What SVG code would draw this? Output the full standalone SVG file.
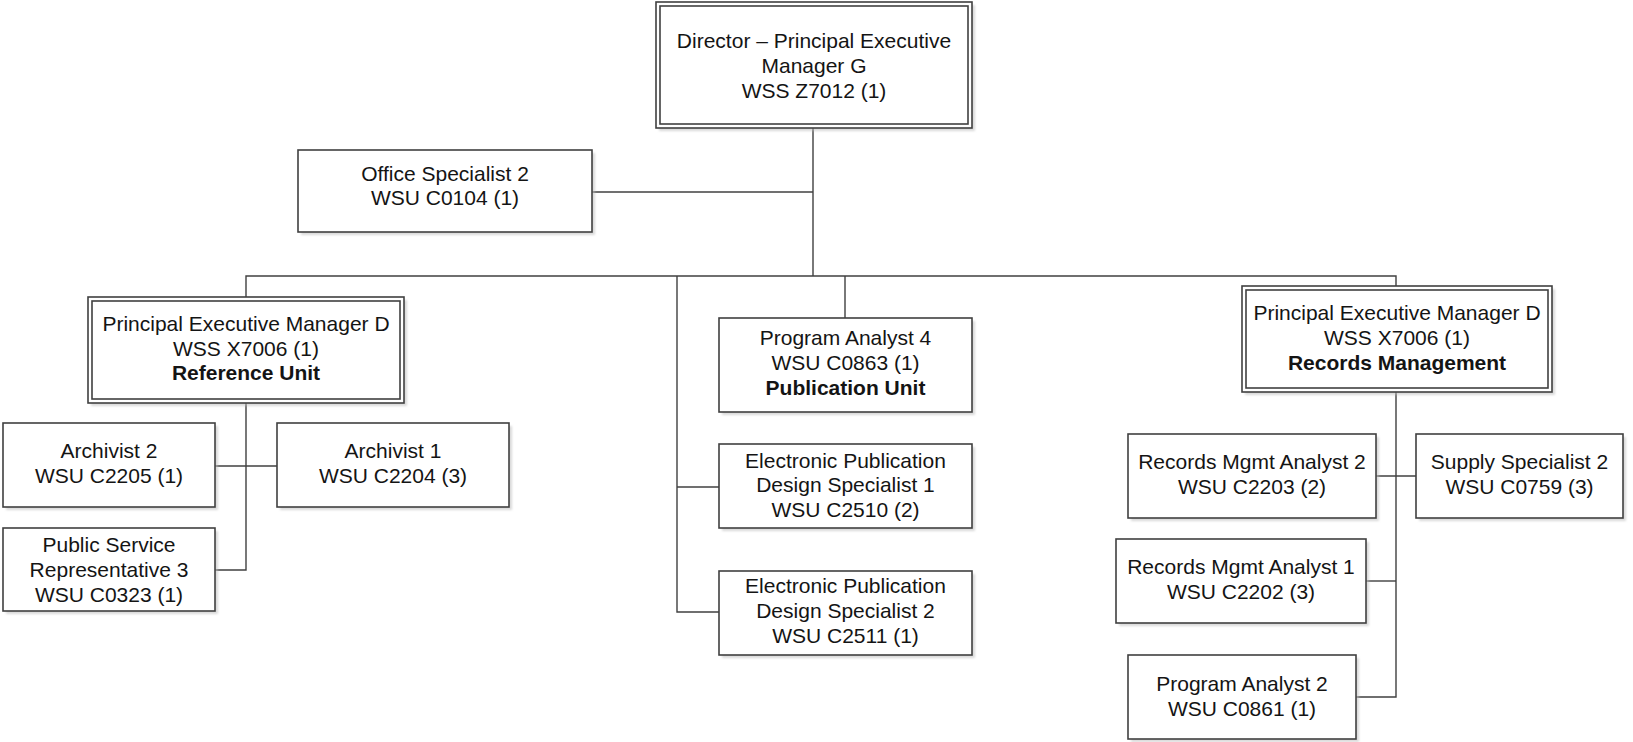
<svg xmlns="http://www.w3.org/2000/svg" width="1633" height="742" viewBox="0 0 1633 742">
  <style>
    .box { fill: #ffffff; stroke: #404040; stroke-width: 1.6; }
    .inner { fill: none; stroke: #404040; stroke-width: 1.6; }
    .shadow { fill: #bdbdbd; opacity: 0.55; filter: url(#soft); }
    .link { fill: none; stroke: #404040; stroke-width: 1.4; }
    text { font-family: "Liberation Sans", Arial, sans-serif; font-size: 21px; fill: #141414; text-anchor: middle; }
    .b { font-weight: bold; }
  </style>
  <defs>
    <filter id="soft" x="-5%" y="-5%" width="110%" height="110%">
      <feGaussianBlur stdDeviation="1.2"/>
    </filter>
  </defs>
  <rect width="1633" height="742" fill="#ffffff"/>

  <!-- reporting lines -->
  <g id="connectors">
    <polyline class="link" points="813,128 813,276"/>
    <polyline class="link" points="592,192 813,192"/>
    <polyline class="link" points="246,297 246,276 1396,276 1396,286"/>
    <polyline class="link" points="845,276 845,318"/>
    <polyline class="link" points="677,276 677,612 719,612"/>
    <polyline class="link" points="677,487 719,487"/>
    <!-- Reference Unit -->
    <polyline class="link" points="246,403 246,570 215,570"/>
    <polyline class="link" points="215,466 277,466"/>
    <!-- Records Management -->
    <polyline class="link" points="1396,392 1396,697 1356,697"/>
    <polyline class="link" points="1376,476 1416,476"/>
    <polyline class="link" points="1366,581 1396,581"/>
  </g>

  <g id="director">
    <rect class="shadow" x="659" y="5" width="316" height="126"/>
    <rect class="box" x="656" y="2" width="316" height="126"/>
    <rect class="inner" x="660" y="6" width="308" height="118"/>
    <text x="814" y="48">Director – Principal Executive</text>
    <text x="814" y="73">Manager G</text>
    <text x="814" y="98">WSS Z7012 (1)</text>
  </g>

  <g id="office-specialist-2">
    <rect class="shadow" x="301" y="153" width="294" height="82"/>
    <rect class="box" x="298" y="150" width="294" height="82"/>
    <text x="445" y="181">Office Specialist 2</text>
    <text x="445" y="205">WSU C0104 (1)</text>
  </g>

  <g id="reference-unit">
    <rect class="shadow" x="91" y="300" width="316" height="106"/>
    <rect class="box" x="88" y="297" width="316" height="106"/>
    <rect class="inner" x="92" y="301" width="308" height="98"/>
    <text x="246" y="331">Principal Executive Manager D</text>
    <text x="246" y="356">WSS X7006 (1)</text>
    <text class="b" x="246" y="380">Reference Unit</text>
  </g>

  <g id="archivist-2">
    <rect class="shadow" x="6" y="426" width="212" height="84"/>
    <rect class="box" x="3" y="423" width="212" height="84"/>
    <text x="109" y="458">Archivist 2</text>
    <text x="109" y="483">WSU C2205 (1)</text>
  </g>

  <g id="archivist-1">
    <rect class="shadow" x="280" y="426" width="232" height="84"/>
    <rect class="box" x="277" y="423" width="232" height="84"/>
    <text x="393" y="458">Archivist 1</text>
    <text x="393" y="483">WSU C2204 (3)</text>
  </g>

  <g id="public-service-rep-3">
    <rect class="shadow" x="6" y="531" width="212" height="83"/>
    <rect class="box" x="3" y="528" width="212" height="83"/>
    <text x="109" y="552">Public Service</text>
    <text x="109" y="577">Representative 3</text>
    <text x="109" y="602">WSU C0323 (1)</text>
  </g>

  <g id="publication-unit">
    <rect class="shadow" x="722" y="321" width="253" height="94"/>
    <rect class="box" x="719" y="318" width="253" height="94"/>
    <text x="845.5" y="345">Program Analyst 4</text>
    <text x="845.5" y="370">WSU C0863 (1)</text>
    <text class="b" x="845.5" y="395">Publication Unit</text>
  </g>

  <g id="epds-1">
    <rect class="shadow" x="722" y="447" width="253" height="84"/>
    <rect class="box" x="719" y="444" width="253" height="84"/>
    <text x="845.5" y="468">Electronic Publication</text>
    <text x="845.5" y="492">Design Specialist 1</text>
    <text x="845.5" y="517">WSU C2510 (2)</text>
  </g>

  <g id="epds-2">
    <rect class="shadow" x="722" y="574" width="253" height="84"/>
    <rect class="box" x="719" y="571" width="253" height="84"/>
    <text x="845.5" y="593">Electronic Publication</text>
    <text x="845.5" y="618">Design Specialist 2</text>
    <text x="845.5" y="643">WSU C2511 (1)</text>
  </g>

  <g id="records-management">
    <rect class="shadow" x="1245" y="289" width="310" height="106"/>
    <rect class="box" x="1242" y="286" width="310" height="106"/>
    <rect class="inner" x="1246" y="290" width="302" height="98"/>
    <text x="1397" y="320">Principal Executive Manager D</text>
    <text x="1397" y="345">WSS X7006 (1)</text>
    <text class="b" x="1397" y="370">Records Management</text>
  </g>

  <g id="records-mgmt-analyst-2">
    <rect class="shadow" x="1131" y="437" width="248" height="84"/>
    <rect class="box" x="1128" y="434" width="248" height="84"/>
    <text x="1252" y="469">Records Mgmt Analyst 2</text>
    <text x="1252" y="494">WSU C2203 (2)</text>
  </g>

  <g id="supply-specialist-2">
    <rect class="shadow" x="1419" y="437" width="207" height="84"/>
    <rect class="box" x="1416" y="434" width="207" height="84"/>
    <text x="1519.5" y="469">Supply Specialist 2</text>
    <text x="1519.5" y="494">WSU C0759 (3)</text>
  </g>

  <g id="records-mgmt-analyst-1">
    <rect class="shadow" x="1119" y="542" width="250" height="84"/>
    <rect class="box" x="1116" y="539" width="250" height="84"/>
    <text x="1241" y="574">Records Mgmt Analyst 1</text>
    <text x="1241" y="599">WSU C2202 (3)</text>
  </g>

  <g id="program-analyst-2">
    <rect class="shadow" x="1131" y="658" width="228" height="84"/>
    <rect class="box" x="1128" y="655" width="228" height="84"/>
    <text x="1242" y="691">Program Analyst 2</text>
    <text x="1242" y="716">WSU C0861 (1)</text>
  </g>
</svg>
